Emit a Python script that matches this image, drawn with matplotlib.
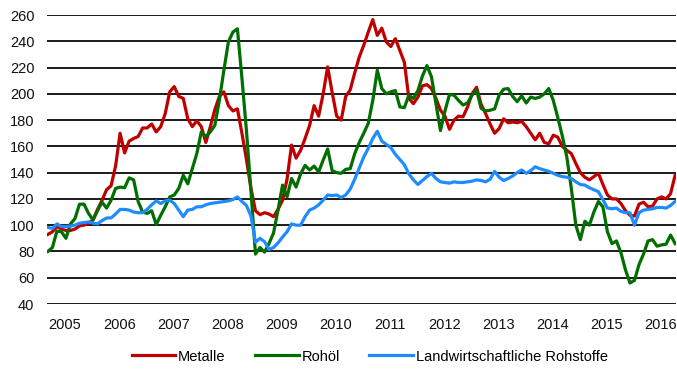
import matplotlib
matplotlib.use("Agg")
import matplotlib.pyplot as plt
import numpy as np

plt.rcParams['font.family'] = ['Liberation Sans', 'DejaVu Sans']

# monthly index values, Jan 2005 .. Aug 2016
metalle = [
    93, 95, 99, 97, 96, 96, 97, 99.5, 100, 101.5, 104, 112,
    119, 127, 130, 145, 170, 155, 164, 166, 167.5, 174, 174, 177,
    171, 175, 185, 201.5, 205.5, 198, 196.5, 181, 175, 179.5, 175, 163,
    175, 188, 198, 201.5, 191, 187, 188.5, 170, 150, 128, 111, 108,
    109.5, 108.5, 106.5, 112, 119, 135, 161, 151, 157, 166, 176, 191,
    183, 200, 220.5, 201, 183, 180, 198, 203, 216, 228, 237, 247,
    256.5, 244.5, 250, 239.5, 236, 242, 233, 224, 196.5, 192.5, 197.5, 206,
    207, 204, 196.5, 187.5, 183, 173, 180, 183, 182.5, 190, 200, 205,
    192, 185, 177, 170, 173.5, 181, 178, 178.5, 178, 179, 175, 170,
    165, 170, 163, 162, 168.5, 167, 160, 157, 154.5, 147, 140, 136.5,
    134.5, 137, 139.5, 131, 123, 120, 120, 116.5, 111, 107.5, 107, 116,
    117.5, 114, 114.5, 120, 121.5, 120, 124, 138,
]
rohoel = [
    80, 83, 95.5, 95, 90, 101, 105, 116, 116, 109, 104, 111,
    117.5, 113, 119, 128, 129, 128.5, 136, 134.5, 118, 110, 109, 111,
    100.5, 107.5, 114, 121.5, 123, 128, 138, 131.5, 143, 154.5, 171, 167.5,
    171, 176, 195, 218, 239.5, 247, 249.5, 212, 172, 126, 78, 83,
    79.5, 86, 94, 111.5, 130.5, 121.5, 135.5, 129, 139, 145.5, 142, 145,
    140.5, 149.5, 158, 141.5, 140, 139.5, 142.5, 143, 154.5, 163, 170, 177.5,
    195, 218, 204, 200, 201.5, 202.5, 190, 189.5, 199, 196.5, 202.5, 213.5,
    221.5, 213, 192.5, 172, 187, 199.5, 199, 195, 191.5, 193, 199, 203,
    189, 187, 187.5, 188.5, 199, 203.5, 204, 198, 194, 198.5, 193, 197.5,
    196.5, 197.5, 200, 204, 195, 182, 168, 152, 128, 100, 89, 103,
    100, 110, 118, 114, 95, 86, 88, 79, 66, 56, 58, 70,
    78, 88, 89, 84, 85, 85.5, 92.5, 86,
]
agrar = [
    98.3, 97.5, 101, 99, 99, 99.3, 100, 101.5, 102, 102.5, 101.5, 101,
    103.5, 105.5, 105.5, 108.5, 112, 112, 111.5, 110, 109.5, 109.5, 112, 115.5,
    118.5, 116.5, 118.5, 119, 116.5, 111.5, 106.5, 111.5, 112, 114, 114, 115.5,
    116.5, 117, 117.5, 118, 118.5, 119.5, 121.5, 118, 115, 107, 87, 90,
    87.5, 81.5, 83, 86.5, 91, 95, 101, 100, 100, 106.5, 111.5, 113,
    115.5, 119, 123, 122.5, 123, 121, 123, 127.5, 135, 143.5, 152, 158.5,
    166, 171.5, 164, 161.5, 159, 154, 150, 146, 139, 134.5, 131, 134,
    137, 139.5, 135.5, 133, 132.5, 132, 133, 132.5, 132.5, 133, 133.5, 134.5,
    134, 133, 135, 141, 136.5, 134, 135.5, 137.5, 140, 142, 139.5, 141.5,
    144.5, 143, 142, 141, 139.5, 138, 137, 136.5, 135.5, 133, 131, 130.5,
    128.5, 127, 125.5, 119.5, 113, 112.5, 113, 110.5, 109.5, 109.5, 100, 109.5,
    111.5, 112, 112.5, 113.5, 113.5, 113, 115, 118,
]
years = list(range(2005, 2017))

months = np.arange(len(metalle))

fig = plt.figure(figsize=(6.77, 3.70), dpi=100)
ax = fig.add_axes([47 / 677, 66 / 370, 629 / 677, 289 / 370])

ax.plot(months, metalle, color='#C00000', lw=2.3, label='Metalle')
ax.plot(months, rohoel, color='#006E00', lw=2.3, label='Rohöl')
ax.plot(months, agrar, color='#1E8CFF', lw=2.3, label='Landwirtschaftliche Rohstoffe')

ax.set_xlim(-0.2, 139.2)
ax.set_ylim(40, 260)
ax.set_yticks(range(40, 261, 20))
ax.yaxis.grid(True, color='#1a1a1a', lw=1.4)
ax.set_axisbelow(True)
for s in ax.spines.values():
    s.set_visible(False)

ax.set_xticks([(y - 2005) * 12 + 3.8 for y in years])
ax.set_xticklabels([str(y) for y in years])
ax.tick_params(axis='both', length=0, labelsize=10.5, colors='#111111')
ax.tick_params(axis='y', pad=9)
ax.tick_params(axis='x', pad=10)

fig.legend(loc='lower center', bbox_to_anchor=(0.546, -0.018), ncol=3,
           frameon=False, fontsize=10.5, handlelength=3.0, handletextpad=0.2,
           columnspacing=2.0)

fig.savefig('out.png', dpi=100)
